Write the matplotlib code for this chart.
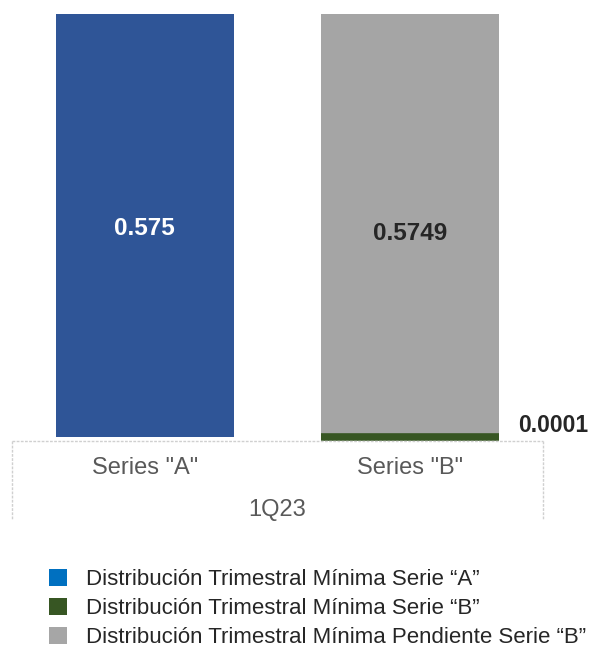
import matplotlib
matplotlib.use("Agg")
import matplotlib.pyplot as plt
from matplotlib.lines import Line2D
from matplotlib.patches import Patch

plt.rcParams['font.family'] = ['Liberation Sans', 'DejaVu Sans']

# data
categories = ['Series "A"', 'Series "B"']
period = "1Q23"
serie_a = [0.575, 0.0]
serie_b = [0.0, 0.0001]
pendiente_b = [0.0, 0.5749]
legend_labels = [
    "Distribución Trimestral Mínima Serie \u201cA\u201d",
    "Distribución Trimestral Mínima Serie \u201cB\u201d",
    "Distribución Trimestral Mínima Pendiente Serie \u201cB\u201d",
]

blue = "#2F5597"
green = "#375623"
gray = "#A5A5A5"
legend_colors = ["#0070C0", green, "#A6A6A6"]

fig = plt.figure(figsize=(5.92, 6.52), dpi=100)
ax = fig.add_axes([12 / 592, 1 - 437 / 652, 531 / 592, 423 / 652])

x = [0, 1]
width = 0.672
bars_a = ax.bar(x[0], serie_a[0], width, color=blue)
bars_b = ax.bar(x[1], serie_b[1], width, color=green, edgecolor=green,
                linewidth=5.5, clip_on=False, zorder=3)
bars_p = ax.bar(x[1], pendiente_b[1], width, bottom=serie_b[1], color=gray)

ax.set_xlim(-0.5, 1.5)
ax.set_ylim(0, sum(serie_a))
ax.axis("off")

# value labels
ax.text(x[0], serie_a[0] * 0.494, f"{serie_a[0]:g}", ha="center", va="center",
        color="white", fontsize=17.5, fontweight="bold")
ax.text(x[1], pendiente_b[1] * 0.48, f"{pendiente_b[1]:g}", ha="center", va="center",
        color="#262626", fontsize=17.5, fontweight="bold")
ax.text(x[1] + width / 2 + 0.07, serie_b[1] + 0.015, f"{serie_b[1]:g}", ha="left",
        va="center", color="#262626", fontsize=16.5, fontweight="bold")

# category table below the axis
line_kw = dict(color="#D0D0D0", linewidth=1, linestyle=(0, (2, 1)))
y_top = 1 - 441 / 652
y_bot = 1 - 520 / 652
x_l = 12 / 592
x_r = 543 / 592
fig.add_artist(Line2D([x_l, x_r], [y_top, y_top], **line_kw))
fig.add_artist(Line2D([x_l, x_l], [y_top, y_bot], **line_kw))
fig.add_artist(Line2D([x_r, x_r], [y_top, y_bot], **line_kw))
for xi, cat in zip(x, categories):
    px = ax.transData.transform((xi, 0))[0] / fig.bbox.width
    fig.text(px, 1 - 468 / 652, cat, ha="center", va="center",
             color="#595959", fontsize=17)
fig.text((x_l + x_r) / 2, 1 - 510 / 652, period, ha="center", va="center",
         color="#595959", fontsize=17)

handles = [Patch(facecolor=c, edgecolor="none") for c in legend_colors]
fig.legend(handles, legend_labels, loc="upper left",
           bbox_to_anchor=(49 / 592, 1 - 569 / 652), frameon=False,
           fontsize=16, handlelength=0.8, handleheight=0.8, handletextpad=0.85,
           labelspacing=0.35, labelcolor="#262626", borderaxespad=0,
           borderpad=0)

fig.savefig("out.png", dpi=100)
